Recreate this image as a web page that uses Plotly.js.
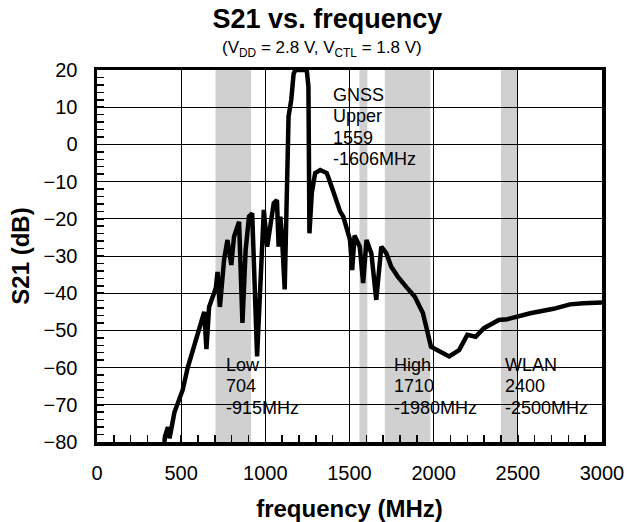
<!DOCTYPE html>
<html>
<head>
<meta charset="utf-8">
<script src="https://cdn.plot.ly/plotly-3.0.1.min.js"></script>
<style>html,body{margin:0;padding:0;background:#fff;}#chart{width:632px;height:522px;}</style>
</head>
<body>
<div id="chart"></div>
<script>
// Measured S21 curve (MHz, dB)
const freq = [400,404,421,431,460,490,509,539,558,608,637,650,666,706,716,730,755,775,798,814,844,864,883,903,922,951,991,1011,1031,1050,1069,1079,1089,1099,1115,1129,1138,1154,1168,1178,1246,1256,1262,1276,1296,1326,1365,1394,1424,1444,1463,1483,1503,1516,1530,1542,1561,1581,1601,1630,1659,1689,1719,1748,1788,1837,1887,1936,1984,2092,2151,2200,2249,2299,2387,2436,2574,2712,2810,2889,2977,3000];
const s21 = [-80,-78.5,-76,-79,-72,-68,-66,-60,-57,-50,-45,-55,-43.7,-38.6,-34.3,-43.7,-31,-25.7,-32.4,-24.8,-20.8,-48,-28.4,-19.4,-18.5,-57,-17.6,-27.5,-20.3,-15.8,-15,-27.5,-19.4,-24.8,-39,-6,7.5,12,19,20,20,15.5,-23.9,-13,-7.7,-6.9,-7.7,-11.4,-15.8,-18,-19.4,-22.1,-25.7,-33.8,-24.5,-25.7,-27.5,-37.3,-25.7,-29.3,-41.8,-27.5,-29.3,-32.9,-35.6,-38.3,-40.9,-45.3,-54.4,-57,-55.3,-51.2,-51.7,-49.4,-47.2,-47,-45.4,-44.2,-43,-42.7,-42.5,-42.5];

// Frequency bands (MHz)
const bandStart = [704, 1559, 1710, 2400];
const bandEnd   = [915, 1606, 1980, 2500];
const bandLabels = [
  ["Low", "704", "-915MHz"],
  ["GNSS", "Upper", "1559", "-1606MHz"],
  ["High", "1710", "-1980MHz"],
  ["WLAN", "2400", "-2500MHz"]
];

const labelX = [755, 1388, 1752, 2411];
const labelTopY = [-59.3, 13.3, -59.3, -59.3];
const lineStep = 5.75;

const FONT = "Liberation Sans, Arial, sans-serif";

const shapes = bandStart.map((s, i) => ({
  type: 'rect', xref: 'x', yref: 'paper', x0: s, x1: bandEnd[i], y0: 0, y1: 1,
  fillcolor: '#d0d0d0', line: {width: 0}, layer: 'below'
}));

const annotations = [];
bandLabels.forEach((lines, i) => {
  lines.forEach((t, j) => {
    annotations.push({
      text: t, x: labelX[i], y: labelTopY[i] - j * lineStep, xref: 'x', yref: 'y',
      xanchor: 'left', yanchor: 'middle', showarrow: false,
      font: {family: FONT, size: 18, color: '#000'}
    });
  });
});
annotations.push({
  text: '(V<sub>DD</sub> = 2.8 V, V<sub>CTL</sub> = 1.8 V)',
  xref: 'paper', yref: 'paper', x: 0.4455, y: 1.0565, xanchor: 'center', yanchor: 'middle',
  showarrow: false, font: {family: FONT, size: 17, color: '#000'}
});

const trace = {
  x: freq, y: s21, type: 'scatter', mode: 'lines',
  line: {color: '#000', width: 4.5}, hoverinfo: 'skip'
};

const layout = {
  width: 632, height: 522,
  margin: {l: 97, r: 30, t: 70, b: 80},
  paper_bgcolor: '#fff', plot_bgcolor: '#fff',
  showlegend: false,
  font: {family: FONT, color: '#000'},
  title: {
    text: '<b>S21 vs. frequency</b>',
    font: {family: FONT, size: 27, color: '#000'},
    xref: 'container', yref: 'container', x: 0.518, y: 0.9636,
    xanchor: 'center', yanchor: 'middle'
  },
  xaxis: {
    range: [0, 3000], dtick: 500, tick0: 0,
    showgrid: true, gridcolor: '#000', gridwidth: 1,
    zeroline: false, showline: true, linecolor: '#000', linewidth: 3.5, mirror: true,
    ticks: 'inside', ticklen: 7, tickcolor: '#000', tickwidth: 1.5,
    ticklabelstandoff: 10,
    tickfont: {family: FONT, size: 20, color: '#000'},
    minor: {dtick: 100, ticks: 'inside', ticklen: 7, tickcolor: '#000', tickwidth: 1.5, showgrid: false},
    title: {text: '<b>frequency (MHz)</b>', font: {family: FONT, size: 24, color: '#000'}, standoff: 18}
  },
  yaxis: {
    range: [-80, 20], dtick: 10, tick0: 0,
    showgrid: true, gridcolor: '#000', gridwidth: 1,
    zeroline: false, showline: true, linecolor: '#000', linewidth: 3.5, mirror: true,
    ticks: 'inside', ticklen: 7, tickcolor: '#000', tickwidth: 1.5,
    ticklabelstandoff: 12,
    tickfont: {family: FONT, size: 20, color: '#000'},
    minor: {dtick: 2, ticks: 'inside', ticklen: 7, tickcolor: '#000', tickwidth: 1.5, showgrid: false},
    title: {text: '<b>S21 (dB)</b>', font: {family: FONT, size: 24, color: '#000'}, standoff: 8}
  },
  shapes: shapes,
  annotations: annotations
};

Plotly.newPlot('chart', [trace], layout, {staticPlot: true, displayModeBar: false});
</script>
</body>
</html>
